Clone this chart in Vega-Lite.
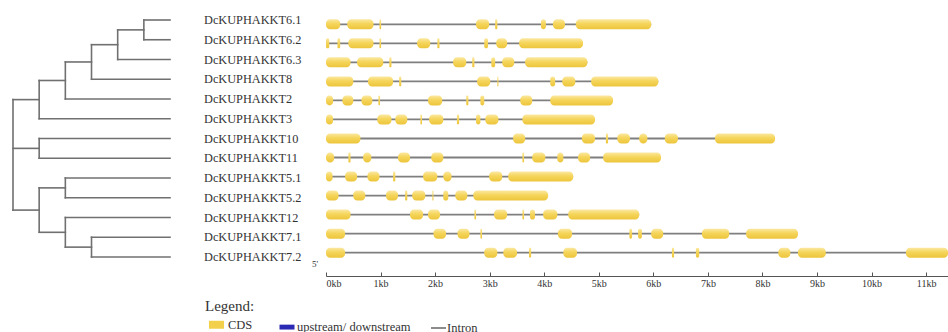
{
  "$schema": "https://vega.github.io/schema/vega-lite/v6.json",
  "padding": 0,
  "spacing": 0,
  "bounds": "flush",
  "background": "white",
  "config": {"view": {"stroke": null}, "font": "Liberation Serif"},
  "datasets": {
    "tree": [
      {"x1":5,"x2":6,"y1":0,"y2":0,"gene":"DcKUPHAKKT6.1"},{"x1":5,"x2":6,"y1":1,"y2":1,"gene":"DcKUPHAKKT6.2"},{"x1":4,"x2":6,"y1":2,"y2":2,"gene":"DcKUPHAKKT6.3"},
      {"x1":3,"x2":6,"y1":3,"y2":3,"gene":"DcKUPHAKKT8"},{"x1":2,"x2":6,"y1":4,"y2":4,"gene":"DcKUPHAKKT2"},{"x1":1,"x2":6,"y1":5,"y2":5,"gene":"DcKUPHAKKT3"},
      {"x1":1,"x2":6,"y1":6,"y2":6,"gene":"DcKUPHAKKT10"},{"x1":1,"x2":6,"y1":7,"y2":7,"gene":"DcKUPHAKKT11"},{"x1":2,"x2":6,"y1":8,"y2":8,"gene":"DcKUPHAKKT5.1"},
      {"x1":2,"x2":6,"y1":9,"y2":9,"gene":"DcKUPHAKKT5.2"},{"x1":2,"x2":6,"y1":10,"y2":10,"gene":"DcKUPHAKKT12"},{"x1":3,"x2":6,"y1":11,"y2":11,"gene":"DcKUPHAKKT7.1"},
      {"x1":3,"x2":6,"y1":12,"y2":12,"gene":"DcKUPHAKKT7.2"},
      {"x1":5,"x2":5,"y1":0,"y2":1},{"x1":4,"x2":4,"y1":0.5,"y2":2},{"x1":3,"x2":3,"y1":1.25,"y2":3},
      {"x1":2,"x2":2,"y1":2.125,"y2":4},{"x1":1,"x2":1,"y1":3.0625,"y2":5},{"x1":0,"x2":0,"y1":4.03125,"y2":9.625},
      {"x1":1,"x2":1,"y1":6,"y2":7},{"x1":2,"x2":2,"y1":8,"y2":9},{"x1":3,"x2":3,"y1":11,"y2":12},
      {"x1":2,"x2":2,"y1":10,"y2":11.5},{"x1":1,"x2":1,"y1":8.5,"y2":10.75},
      {"x1":4,"x2":5,"y1":0.5,"y2":0.5},{"x1":3,"x2":4,"y1":1.25,"y2":1.25},{"x1":2,"x2":3,"y1":2.125,"y2":2.125},
      {"x1":1,"x2":2,"y1":3.0625,"y2":3.0625},{"x1":0,"x2":1,"y1":4.03125,"y2":4.03125},{"x1":0,"x2":1,"y1":6.5,"y2":6.5},
      {"x1":1,"x2":2,"y1":8.5,"y2":8.5},{"x1":2,"x2":3,"y1":11.5,"y2":11.5},{"x1":1,"x2":2,"y1":10.75,"y2":10.75},
      {"x1":0,"x2":1,"y1":9.625,"y2":9.625}
    ],
    "genes": [
      {"gene":"DcKUPHAKKT6.1","row":0,"start":0,"len":5.96,"type":"Intron"},
      {"gene":"DcKUPHAKKT6.2","row":1,"start":0,"len":4.71,"type":"Intron"},
      {"gene":"DcKUPHAKKT6.3","row":2,"start":0,"len":4.79,"type":"Intron"},
      {"gene":"DcKUPHAKKT8","row":3,"start":0,"len":6.09,"type":"Intron"},
      {"gene":"DcKUPHAKKT2","row":4,"start":0,"len":5.26,"type":"Intron"},
      {"gene":"DcKUPHAKKT3","row":5,"start":0,"len":4.93,"type":"Intron"},
      {"gene":"DcKUPHAKKT10","row":6,"start":0,"len":8.23,"type":"Intron"},
      {"gene":"DcKUPHAKKT11","row":7,"start":0,"len":6.14,"type":"Intron"},
      {"gene":"DcKUPHAKKT5.1","row":8,"start":0,"len":4.53,"type":"Intron"},
      {"gene":"DcKUPHAKKT5.2","row":9,"start":0,"len":4.07,"type":"Intron"},
      {"gene":"DcKUPHAKKT12","row":10,"start":0,"len":5.74,"type":"Intron"},
      {"gene":"DcKUPHAKKT7.1","row":11,"start":0,"len":8.65,"type":"Intron"},
      {"gene":"DcKUPHAKKT7.2","row":12,"start":0,"len":11.4,"type":"Intron"}
    ],
    "exons": [
      {"row":0,"start":0,"end":0.26},{"row":0,"start":0.39,"end":0.87},{"row":0,"start":0.98,"end":1.01},{"row":0,"start":2.75,"end":2.99},{"row":0,"start":3.1,"end":3.14},{"row":0,"start":3.94,"end":4.03},{"row":0,"start":4.16,"end":4.38},{"row":0,"start":4.58,"end":5.96},
      {"row":1,"start":0,"end":0.06},{"row":1,"start":0.21,"end":0.26},{"row":1,"start":0.41,"end":0.87},{"row":1,"start":0.98,"end":1.01},{"row":1,"start":1.67,"end":1.91},{"row":1,"start":2.04,"end":2.08},{"row":1,"start":2.9,"end":2.97},{"row":1,"start":3.12,"end":3.32},{"row":1,"start":3.54,"end":4.71},
      {"row":2,"start":0,"end":0.45},{"row":2,"start":0.57,"end":1.05},{"row":2,"start":1.16,"end":1.2},{"row":2,"start":2.33,"end":2.57},{"row":2,"start":2.68,"end":2.72},{"row":2,"start":3.03,"end":3.1},{"row":2,"start":3.23,"end":3.45},{"row":2,"start":3.65,"end":4.79},
      {"row":3,"start":0,"end":0.5},{"row":3,"start":0.77,"end":1.23},{"row":3,"start":1.34,"end":1.38},{"row":3,"start":2.77,"end":3.01},{"row":3,"start":3.14,"end":3.16},{"row":3,"start":4.11,"end":4.2},{"row":3,"start":4.33,"end":4.57},{"row":3,"start":4.86,"end":6.09},
      {"row":4,"start":0,"end":0.13},{"row":4,"start":0.3,"end":0.5},{"row":4,"start":0.65,"end":0.85},{"row":4,"start":0.96,"end":0.99},{"row":4,"start":1.87,"end":2.13},{"row":4,"start":2.57,"end":2.61},{"row":4,"start":2.83,"end":2.9},{"row":4,"start":3.56,"end":3.78},{"row":4,"start":4.11,"end":5.26},
      {"row":5,"start":0,"end":0.13},{"row":5,"start":0.94,"end":1.2},{"row":5,"start":1.27,"end":1.49},{"row":5,"start":1.73,"end":1.76},{"row":5,"start":1.89,"end":2.15},{"row":5,"start":2.4,"end":2.44},{"row":5,"start":2.75,"end":2.83},{"row":5,"start":2.92,"end":3.16},{"row":5,"start":3.6,"end":4.93},
      {"row":6,"start":0,"end":0.63},{"row":6,"start":3.43,"end":3.65},{"row":6,"start":4.69,"end":4.93},{"row":6,"start":5.13,"end":5.17},{"row":6,"start":5.34,"end":5.57},{"row":6,"start":5.74,"end":5.89},{"row":6,"start":6.21,"end":6.45},{"row":6,"start":7.13,"end":8.23},
      {"row":7,"start":0,"end":0.15},{"row":7,"start":0.41,"end":0.45},{"row":7,"start":0.68,"end":0.83},{"row":7,"start":1.32,"end":1.54},{"row":7,"start":1.93,"end":2.15},{"row":7,"start":3.6,"end":3.63},{"row":7,"start":3.78,"end":4.02},{"row":7,"start":4.24,"end":4.35},{"row":7,"start":4.62,"end":4.84},{"row":7,"start":5.08,"end":6.14},
      {"row":8,"start":0,"end":0.12},{"row":8,"start":0.35,"end":0.57},{"row":8,"start":0.76,"end":0.98},{"row":8,"start":1.23,"end":1.27},{"row":8,"start":1.78,"end":2.04},{"row":8,"start":2.15,"end":2.3},{"row":8,"start":2.99,"end":3.23},{"row":8,"start":3.34,"end":4.53},
      {"row":9,"start":0,"end":0.23},{"row":9,"start":0.5,"end":0.72},{"row":9,"start":1.1,"end":1.32},{"row":9,"start":1.45,"end":1.49},{"row":9,"start":1.58,"end":1.82},{"row":9,"start":1.95,"end":1.97},{"row":9,"start":2.15,"end":2.24},{"row":9,"start":2.37,"end":2.59},{"row":9,"start":2.7,"end":4.07},
      {"row":10,"start":0,"end":0.45},{"row":10,"start":1.54,"end":1.78},{"row":10,"start":1.87,"end":2.09},{"row":10,"start":2.72,"end":2.75},{"row":10,"start":3.08,"end":3.32},{"row":10,"start":3.6,"end":3.63},{"row":10,"start":3.74,"end":3.83},{"row":10,"start":3.98,"end":4.24},{"row":10,"start":4.44,"end":5.74},
      {"row":11,"start":0,"end":0.35},{"row":11,"start":1.97,"end":2.2},{"row":11,"start":2.41,"end":2.63},{"row":11,"start":2.83,"end":2.86},{"row":11,"start":4.25,"end":4.51},{"row":11,"start":5.56,"end":5.61},{"row":11,"start":5.72,"end":5.79},{"row":11,"start":5.96,"end":6.18},{"row":11,"start":6.89,"end":7.39},{"row":11,"start":7.7,"end":8.65},
      {"row":12,"start":0,"end":0.35},{"row":12,"start":2.9,"end":3.14},{"row":12,"start":3.25,"end":3.5},{"row":12,"start":3.72,"end":3.76},{"row":12,"start":4.35,"end":4.6},{"row":12,"start":6.34,"end":6.38},{"row":12,"start":6.78,"end":6.84},{"row":12,"start":8.29,"end":8.51},{"row":12,"start":8.65,"end":9.16},{"row":12,"start":10.63,"end":11.4}
    ]
  },
  "hconcat": [
    {
      "width": 326,
      "height": 276,
      "data": {"name": "tree"},
      "layer": [
        {
          "mark": {"type": "rule", "color": "#707070", "strokeWidth": 1.6, "strokeCap": "square"},
          "encoding": {
            "x": {"field": "x1", "type": "quantitative", "scale": {"domain": [-0.4968, 11.96], "nice": false, "zero": false}, "axis": null},
            "x2": {"field": "x2"},
            "y": {"field": "y1", "type": "quantitative", "scale": {"domain": [-1.0127, 12.962], "reverse": true, "nice": false, "zero": false}, "axis": null},
            "y2": {"field": "y2"}
          }
        },
        {
          "transform": [{"filter": "datum.gene != null"}],
          "mark": {"type": "text", "align": "left", "baseline": "middle", "dx": 34, "font": "Liberation Serif", "fontSize": 12.3, "color": "#333333"},
          "encoding": {
            "x": {"field": "x2", "type": "quantitative"},
            "y": {"field": "y1", "type": "quantitative"},
            "text": {"field": "gene", "type": "nominal"}
          }
        }
      ]
    },
    {
      "width": 622,
      "height": 276,
      "layer": [
        {
          "data": {"name": "genes"},
          "mark": {"type": "rule"},
          "encoding": {
            "x": {"field": "start", "type": "quantitative", "scale": {"domain": [0, 11.4], "nice": false, "zero": false},
              "axis": {"values": [0,1,2,3,4,5,6,7,8,9,10,11], "labelExpr": "datum.value + 'kb'", "grid": false, "title": null,
                "tickSize": -4, "labelPadding": 6, "domainColor": "#555555", "tickColor": "#555555",
                "labelFont": "Liberation Serif", "labelFontSize": 10, "labelColor": "#333333"}},
            "x2": {"field": "len"},
            "y": {"field": "row", "type": "quantitative", "scale": {"domain": [-1.0127, 12.962], "reverse": true, "nice": false, "zero": false}, "axis": null},
            "color": {"field": "type", "type": "ordinal",
              "scale": {"domain": ["CDS", "upstream/ downstream", "Intron"], "range": ["#f3d04c", "#2a2ab4", "#7f7f7f"]},
              "legend": {"orient": "none", "legendX": 205, "legendY": 299, "direction": "horizontal",
                "title": "Legend:", "titleFont": "Liberation Serif", "titleFontSize": 15, "titleFontWeight": "normal", "titleColor": "#333333", "titlePadding": -1,
                "labelFont": "Liberation Serif", "labelFontSize": 12.5, "labelColor": "#333333", "labelOffset": 0,
                "symbolSize": 225, "columnPadding": 16, "symbolType": "stroke"}
            },
            "strokeWidth": {"field": "type", "type": "ordinal",
              "scale": {"domain": ["CDS", "upstream/ downstream", "Intron"], "range": [8, 1.8], "padding": 0},
              "legend": {"orient": "none", "legendX": 205, "legendY": 299, "direction": "horizontal",
                "title": "Legend:", "titleFont": "Liberation Serif", "titleFontSize": 15, "titleFontWeight": "normal", "titleColor": "#333333", "titlePadding": -1,
                "labelFont": "Liberation Serif", "labelFontSize": 12.5, "labelColor": "#333333", "labelOffset": 0,
                "symbolSize": 225, "columnPadding": 16, "symbolType": "stroke"}
            }
          }
        },
        {
          "data": {"name": "exons"},
          "mark": {"type": "bar", "size": 10, "cornerRadius": 4,
            "color": {"gradient": "linear", "x1": 0, "y1": 0, "x2": 0, "y2": 1,
              "stops": [{"offset": 0, "color": "#fbe8a2"}, {"offset": 0.45, "color": "#f5d55a"}, {"offset": 1, "color": "#edc53c"}]}},
          "encoding": {
            "x": {"field": "start", "type": "quantitative"},
            "x2": {"field": "end"},
            "y": {"field": "row", "type": "quantitative"}
          }
        },
        {
          "data": {"name": "genes"},
          "transform": [{"filter": "datum.row == 12"}],
          "mark": {"type": "text", "text": "5'", "align": "center", "baseline": "middle", "dx": -11, "dy": 11, "font": "Liberation Serif", "fontSize": 9, "color": "#333333"},
          "encoding": {
            "x": {"field": "start", "type": "quantitative"},
            "y": {"field": "row", "type": "quantitative"}
          }
        }
      ]
    }
  ]
}
